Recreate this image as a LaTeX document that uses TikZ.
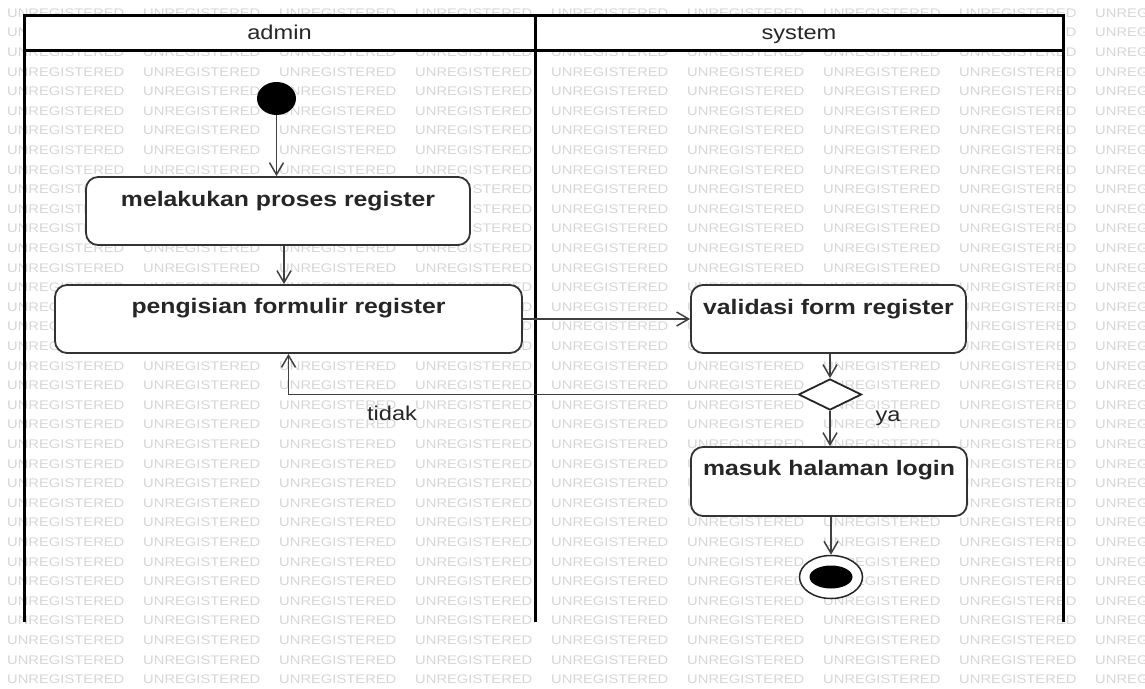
\documentclass[tikz,border=0pt]{standalone}
\usepackage{fontspec}
\setmainfont{Liberation Sans}[FakeStretch=1.18]
\usetikzlibrary{arrows.meta,shapes.geometric,calc}
\tikzset{
  wm/.style={font=\fontsize{12.5}{14}\selectfont, text=black!16, inner sep=0, anchor=west},
  lane/.style={line width=3pt, draw=black},
  act/.style={draw=black!80, line width=1.8pt, fill=white, rounded corners=12pt, inner sep=0},
  acttext/.style={font=\bfseries\fontsize{21}{25}\selectfont, text=black!85, inner sep=0, anchor=base},
  hdr/.style={font=\fontsize{20}{24}\selectfont, text=black!85, inner sep=0, anchor=base},
  flow/.style={draw=black!75, line width=1.5pt, -{Straight Barb[length=12pt,width=14pt,line width=1.5pt]}},
  lbl/.style={font=\fontsize{20}{24}\selectfont, text=black!85, inner sep=0}
}
\begin{document}
\begin{tikzpicture}[x=1pt,y=-1pt]
\useasboundingbox[fill=white] (0,0) rectangle (1145,688);
% watermark
\foreach \r in {0,...,34}{
  \foreach \c in {0,...,8}{
    \node[wm] (wm-\r-\c) at (7+136*\c, 13+19.6*\r) {UNREGISTERED};
  }
}
% swimlanes
\draw[lane, fill=white] (24,15) rectangle (1063,50);
\draw[lane] (24,15) -- (24,622);
\draw[lane] (535,15) -- (535,622);
\draw[lane] (1063,15) -- (1063,622);
\node[hdr] (ha) at (279.5,39.5) {admin};
\node[hdr] (hs) at (799,39.5) {system};
% nodes
\node[ellipse, fill=black, minimum width=39pt, minimum height=33pt, inner sep=0] (init) at (276.5,98.5) {};
\node[act, minimum width=384pt, minimum height=68pt] (b1) at (278,211) {};
\node[acttext] (t1) at ($(b1.north)+(0,30)$) {melakukan proses register};
\node[act, minimum width=467pt, minimum height=68pt] (b2) at (288.5,319) {};
\node[acttext] (t2) at ($(b2.north)+(0,29)$) {pengisian formulir register};
\node[act, minimum width=275pt, minimum height=68pt] (b3) at (828.5,319) {};
\node[acttext] (t3) at ($(b3.north)+(0,30)$) {validasi form register};
\node[diamond, draw=black!85, line width=1.8pt, fill=white, minimum width=63pt, minimum height=31pt, inner sep=0] (dia) at (830,394.5) {};
\node[act, minimum width=276pt, minimum height=69pt] (b4) at (829,481.5) {};
\node[acttext] (t4) at ($(b4.north)+(0,29)$) {masuk halaman login};
\node[ellipse, draw=black!85, line width=1.5pt, fill=white, minimum width=63pt, minimum height=43pt, inner sep=0] (fin) at (831,577) {};
\node[ellipse, fill=black, minimum width=43pt, minimum height=23pt, inner sep=0] (finc) at (fin) {};
% labels
\node[lbl] (tidak) at (392,413) {tidak};
\node[lbl] (ya) at (888,418) {ya};
% flows
\draw[flow] (init.south) -- (init.south |- b1.north);
\draw[flow] ([xshift=6pt]b1.south) -- ([xshift=6pt]b1.south |- b2.north);
\draw[flow] (b2.east) -- (b3.west);
\draw[flow] (dia.north |- b3.south) -- (dia.north);
\draw[flow] (dia.west) -| (b2.south);
\draw[flow] (dia.south) -- (dia.south |- b4.north);
\draw[flow] (fin.north |- b4.south) -- (fin.north);
\end{tikzpicture}
\end{document}
